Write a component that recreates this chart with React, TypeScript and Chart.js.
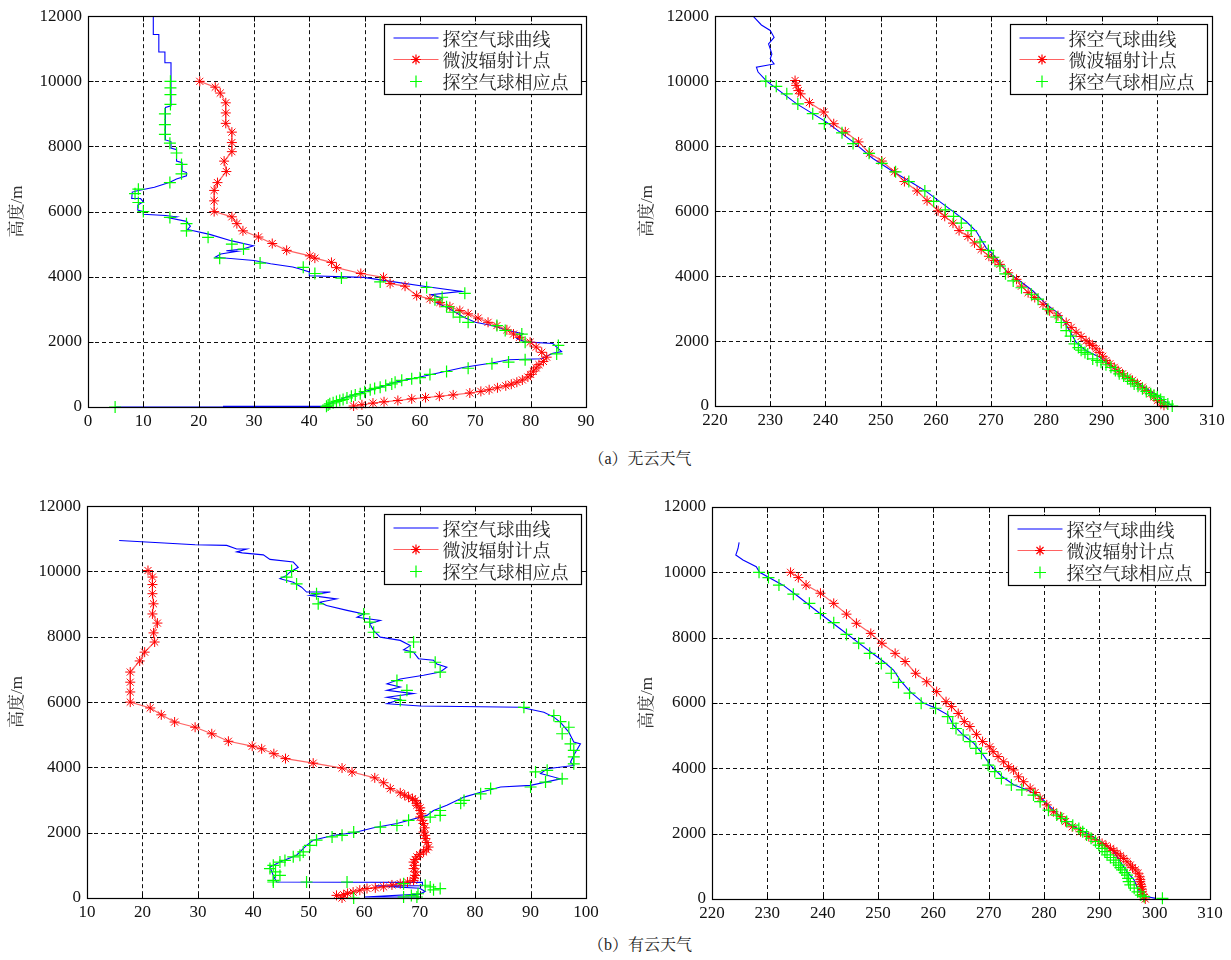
import React, { useEffect, useRef } from 'react';
import { Chart, registerables } from 'chart.js';

Chart.register(...registerables);

type P = [number, number];

// ---------- (a) 无云天气 : humidity ----------
const clearHumBalloon: P[] = [
  [11.8, 12000], [11.8, 11440], [12.8, 11440], [12.8, 10900], [13.9, 10900], [13.9, 10570], [15, 10570],
  [15, 9250], [14, 9200], [14, 8200], [15, 8150], [15, 7950], [16, 7900], [16, 7550], [17, 7500], [17, 7250],
  [17.8, 7200], [17.8, 7100], [16, 7000], [14.8, 6900], [12, 6750], [9.1, 6650], [8, 6600], [7.9, 6400],
  [9.5, 6400], [10, 6300], [9, 6200], [9, 6050], [10, 6000], [10, 5920], [14, 5880], [16, 5840], [14.8, 5800],
  [17.8, 5700], [18.5, 5550], [18, 5450], [22, 5300], [26, 5100], [29.9, 4950], [28, 4850], [25, 4800],
  [27, 4780], [24, 4700], [23, 4600], [30, 4500], [33, 4400], [37, 4300], [38, 4250], [40, 4150], [40, 4030],
  [49.8, 3980], [55, 3850], [61, 3700], [67.5, 3550], [62, 3450], [64, 3350], [63, 3200], [65, 3050],
  [68, 2750], [70, 2600], [73, 2500], [76, 2350], [78.6, 2250], [77.5, 2100], [79, 2000], [84, 1950],
  [85.6, 1700], [84, 1650], [82, 1480], [76, 1450], [73, 1350], [68, 1220], [60, 920], [56, 780],
  [52.8, 610], [48, 370], [46.7, 310], [44, 120], [43, 50], [43, 20], [24.5, 20], [24.5, 0], [5, 0],
];
const clearHumRadiometer: P[] = [
  [20.2, 10000], [23, 9820], [23.9, 9640], [24.9, 9340], [24.9, 9030], [24.9, 8710], [26, 8440], [26, 8120],
  [26, 7840], [24.6, 7550], [25, 7230], [23.4, 6890], [22.8, 6650], [22.8, 6330], [22.8, 6000], [26, 5840],
  [26.9, 5630], [28, 5410], [30.8, 5220], [33.3, 5020], [35.9, 4810], [40.1, 4640], [41, 4570], [44, 4440],
  [44.9, 4280], [49.3, 4100], [53.4, 3980], [54.6, 3790], [57.3, 3710], [59.4, 3420], [61.8, 3320],
  [63.6, 3210], [65.4, 3080], [67.2, 2960], [68.7, 2860], [70.5, 2730], [72.3, 2600], [73.9, 2500],
  [75.7, 2370], [76.9, 2240], [78, 2140], [79.9, 1990], [81, 1840], [82, 1680], [82.9, 1530], [82.3, 1400],
  [81.5, 1300], [81, 1200], [80.5, 1100], [80, 1000], [79.5, 920], [78.5, 830], [77.5, 760], [76.5, 700],
  [75.5, 650], [74, 590], [72.5, 530], [71, 480], [69, 430], [66, 370], [63.5, 330], [61, 290], [58.5, 250],
  [56, 200], [53.5, 160], [51.5, 120], [49.5, 70], [48, 30],
];
const clearHumMatched: P[] = [
  [14.9, 10000], [14.9, 9800], [14.9, 9590], [14.9, 9290], [13.9, 9000], [13.9, 8670], [13.9, 8370],
  [14.8, 8100], [16, 7800], [16.9, 7450], [16.9, 7160], [14.8, 6890], [9.1, 6690], [8.5, 6550], [9.1, 6280],
  [10, 6000], [14.8, 5820], [17.8, 5630], [17.8, 5410], [21.7, 5210], [26, 5000], [28.1, 4850], [23.8, 4570],
  [31.1, 4420], [38.9, 4290], [41, 4100], [45.8, 3960], [52.8, 3840], [61.2, 3670], [68.1, 3490], [64, 3370],
  [62.7, 3290], [64.8, 3080], [66, 2910], [67.2, 2760], [68.7, 2600], [73.9, 2500], [75.4, 2350],
  [78.4, 2240], [79, 1990], [85, 1890], [84.7, 1630], [79, 1450], [76, 1380], [73, 1330], [68.7, 1190],
  [64.8, 1090], [61.8, 1000], [60, 900], [58.5, 870], [56.7, 820], [55.5, 760], [54.9, 710], [53.8, 660],
  [52.8, 610], [51.8, 570], [51, 530], [50, 470], [49.2, 410], [48.3, 370], [47.6, 330], [46.8, 280],
  [46.1, 230], [45.5, 200], [44.9, 170], [44.3, 130], [43.7, 100], [43.4, 60], [43.1, 20], [4.9, 0],
];

// ---------- (a) 无云天气 : temperature ----------
const clearTempBalloon: P[] = [
  [226.9, 12000], [228.4, 11730], [230, 11560], [230.7, 11350], [229.7, 11150], [230.3, 10840], [230, 10690],
  [230.7, 10530], [227.5, 10430], [227.8, 10280], [229.3, 10010], [234.8, 9300], [240.2, 8740], [245, 8130],
  [248.6, 7620], [252.3, 7210], [255.9, 6850], [258.3, 6600], [260.7, 6290], [263.1, 5990], [265.5, 5680],
  [267.3, 5380], [269.1, 4870], [270.4, 4660], [272.8, 4150], [275.2, 3850], [277.6, 3540], [280, 3130],
  [282.4, 2830], [284.2, 2320], [285.4, 1960], [287.2, 1700], [289.7, 1500], [292.7, 1090], [295.7, 790],
  [298.7, 480], [301.7, 120], [302.9, 0],
];
const clearTempRadiometer: P[] = [
  [234.5, 10020], [234.7, 9870], [235.1, 9710], [235.5, 9610], [237.1, 9340], [239.7, 9050], [241.5, 8690],
  [243.6, 8440], [246, 8130], [248, 7780], [250.2, 7540], [252.5, 7210], [254.3, 6910], [256.6, 6620],
  [258.4, 6320], [260.4, 6010], [261.6, 5840], [263.1, 5630], [264.2, 5400], [265.8, 5220], [267, 5020],
  [268.2, 4820], [269.6, 4610], [270.7, 4480], [271.6, 4360], [273.1, 4100], [274.6, 3900], [275.5, 3690],
  [276.7, 3490], [277.9, 3340], [279.4, 3130], [280.6, 2930], [282.1, 2780], [283.6, 2570], [284.5, 2420],
  [285.4, 2270], [286.3, 2140], [287.2, 2010], [287.8, 1930], [288.4, 1860], [289, 1760], [289.6, 1650],
  [290.2, 1530], [290.8, 1400], [291.5, 1300], [292.3, 1190], [293, 1090], [293.8, 990], [294.7, 890],
  [295.6, 790], [296.5, 690], [297.4, 580], [298.1, 480], [298.9, 380], [299.5, 280], [300.1, 170],
  [300.7, 100], [301.3, 20],
];
const clearTempMatched: P[] = [
  [229.2, 10000], [231.1, 9840], [233, 9610], [235, 9300], [237.7, 9000], [239.8, 8690], [243, 8410],
  [245, 8080], [247.9, 7780], [250.2, 7470], [252.7, 7210], [255.1, 6910], [258, 6620], [259.6, 6300],
  [261.7, 6040], [263.2, 5840], [264.6, 5630], [266.4, 5400], [268, 5050], [269.5, 4790], [270.4, 4580],
  [271.6, 4310], [272.6, 4070], [274, 3850], [275.5, 3640], [277.3, 3440], [278.5, 3290], [280.3, 2980],
  [281.8, 2740], [282.7, 2570], [283.6, 2320], [284.4, 2150], [285.1, 1910], [285.8, 1800], [286.3, 1720],
  [287, 1650], [287.5, 1600], [288.4, 1450], [289.2, 1400], [289.9, 1350], [290.8, 1270], [291.7, 1190],
  [292.5, 1090], [293.2, 990], [294, 920], [294.7, 840], [295.3, 760], [295.9, 680], [296.6, 610],
  [297.4, 530], [298.1, 450], [298.9, 380], [299.5, 330], [300.1, 280], [300.7, 200], [301.3, 120],
  [302, 60], [302.8, 0],
];

// ---------- (b) 有云天气 : humidity ----------
const cloudHumBalloon: P[] = [
  [15.8, 10950], [23.1, 10880], [29.5, 10820], [35.2, 10800], [37, 10690], [38.8, 10690], [37, 10600],
  [38, 10570], [41.8, 10510], [43, 10370], [47.2, 10290], [48.1, 10130], [46.6, 9980], [46, 9880],
  [44.8, 9780], [47.2, 9670], [48.7, 9520], [49.6, 9370], [53.9, 9370], [50.2, 9270], [55, 9160], [52, 9060],
  [53.2, 8960], [56.9, 8810], [59.9, 8700], [58.7, 8600], [62.9, 8500], [61, 8400], [61.7, 8190],
  [62.9, 7990], [66.5, 7890], [68.3, 7730], [67.1, 7600], [68.9, 7530], [69.8, 7330], [72.5, 7280],
  [73.1, 7170], [74.9, 7070], [73.7, 6920], [70.7, 6820], [66.5, 6710], [64.1, 6560], [66.5, 6460],
  [64.1, 6360], [68.9, 6260], [64.1, 6150], [66.5, 6080], [64.1, 5950], [70.1, 5880], [88.2, 5840],
  [92.4, 5690], [94.2, 5540], [95.4, 5380], [96.9, 5080], [97.8, 4780], [99, 4720], [97.8, 4370],
  [97.2, 4160], [97.8, 4060], [93, 3960], [91.8, 3810], [95.4, 3650], [90, 3450], [84.6, 3400], [81, 3240],
  [78, 3090], [74.9, 2840], [72.5, 2680], [71.3, 2530], [65.9, 2280], [61.7, 2150], [58.1, 2000],
  [54.5, 1920], [50.8, 1770], [49.6, 1610], [47.8, 1310], [44.8, 1100], [43, 950], [43.6, 690], [44.2, 490],
  [70.5, 480], [70.5, 380], [62, 370], [70, 300], [71, 200], [70, 120], [60, 30], [70, 30],
];
const cloudHumRadiometer: P[] = [
  [21, 10030], [21.8, 9830], [21.8, 9600], [21.8, 9320], [22, 9010], [21.8, 8700], [22.7, 8420], [22, 8120],
  [22.2, 7840], [20.4, 7530], [19.5, 7260], [17.8, 6920], [17.8, 6610], [17.8, 6310], [17.8, 6000],
  [21.4, 5820], [23.4, 5610], [25.8, 5390], [29.5, 5230], [32.5, 5030], [35.5, 4800], [39.8, 4650],
  [41.5, 4570], [43.7, 4420], [45.8, 4270], [50.8, 4130], [56, 3980], [57.8, 3860], [61.9, 3680],
  [63.5, 3530], [64.7, 3350], [66.5, 3220], [67.3, 3150], [68, 3090], [68.7, 3040], [69.2, 2990],
  [69.5, 2900], [69.5, 2840], [70.1, 2760], [70.1, 2680], [70.3, 2580], [70.1, 2480], [70.5, 2380],
  [70.7, 2280], [70.9, 2150], [70.7, 2020], [71, 1920], [71, 1820], [71.3, 1700], [71.6, 1560],
  [71.2, 1480], [70.7, 1410], [70, 1330], [69.5, 1260], [69.2, 1180], [68.9, 1100], [69.1, 1000],
  [68.9, 900], [69.3, 800], [69.2, 690], [69, 610], [68.9, 540], [67.8, 490], [66.5, 440], [65, 400],
  [63.5, 340], [62, 310], [60.5, 290], [59.2, 240], [58, 180], [57, 140], [56.3, 100], [55, 80], [56, 0],
];
const cloudHumMatched: P[] = [
  [46.9, 10030], [46, 9830], [47.8, 9620], [51.4, 9320], [51.7, 9010], [59.9, 8700], [61, 8450],
  [61.7, 8140], [68.9, 7840], [68.3, 7530], [72.8, 7220], [73.7, 6920], [65.9, 6660], [67.7, 6360],
  [66.5, 6050], [88.8, 5840], [94.2, 5590], [95.4, 5400], [96.9, 5230], [95.7, 5030], [97.2, 4720],
  [97.8, 4520], [97.8, 4320], [97.8, 4110], [93, 3910], [90.9, 3860], [92.7, 3550], [95.7, 3650], [90, 3400],
  [82.8, 3350], [81, 3190], [78, 2990], [77.4, 2900], [73.7, 2680], [73.7, 2530], [71.9, 2480], [68, 2380],
  [65.9, 2220], [62.9, 2170], [58.1, 2020], [56, 1920], [54.2, 1870], [51.4, 1770], [50.2, 1610],
  [49, 1410], [48.4, 1310], [47.2, 1260], [45.7, 1150], [44.8, 1100], [43.6, 1000], [43, 900], [44, 800],
  [44.8, 690], [43.6, 540], [43.6, 490], [49.6, 490], [56.9, 490], [67.1, 440], [71, 390], [71.9, 340],
  [73.7, 290], [72.5, 250], [69.7, 130], [68.5, 80], [67.1, 30], [69.5, 30], [58.1, 0],
];

// ---------- (b) 有云天气 : temperature ----------
const cloudTempBalloon: P[] = [
  [224.9, 10920], [224.7, 10730], [224.4, 10580], [224.3, 10530], [225.6, 10380], [228, 10170],
  [228.6, 10000], [232.9, 9600], [235.3, 9300], [239.5, 8740], [243.1, 8280], [246.2, 7880], [248.6, 7570],
  [251, 7270], [252.8, 7010], [254, 6700], [255.8, 6350], [258.3, 5990], [260.5, 5840], [262.7, 5630],
  [263.6, 5330], [265.4, 5020], [267.3, 4770], [268.8, 4460], [270.3, 4100], [272.4, 3750], [274.6, 3490],
  [277, 3340], [279.3, 3130], [281.1, 2830], [283, 2520], [284.8, 2270], [286.6, 2110], [288.4, 1960],
  [290.8, 1700], [292.6, 1450], [293.8, 1140], [295, 840], [296.3, 580], [296.9, 330], [297.5, 170],
  [298.7, 70], [300.2, 20],
];
const cloudTempRadiometer: P[] = [
  [234.2, 10000], [235.6, 9840], [237, 9610], [239.6, 9360], [242, 9050], [244.3, 8720], [246.1, 8440],
  [248.7, 8130], [250.7, 7830], [253.1, 7520], [254.9, 7270], [256.8, 6910], [258.8, 6650], [260.6, 6350],
  [262.3, 6040], [263.3, 5890], [264.5, 5680], [265.6, 5430], [266.6, 5280], [267.8, 5040], [268.9, 4820],
  [270.2, 4660], [270.8, 4510], [271.7, 4360], [272.7, 4200], [273.6, 4050], [274.5, 3950], [275.4, 3740],
  [276.3, 3590], [277.5, 3390], [278.4, 3260], [279.3, 3080], [280.5, 2880], [281.7, 2670], [283, 2520],
  [283.9, 2370], [285.1, 2210], [286.6, 2060], [288.1, 1910], [289.3, 1810], [290.5, 1700], [291.2, 1630],
  [292, 1550], [292.6, 1480], [293.2, 1400], [293.8, 1320], [294.4, 1240], [295, 1140], [295.6, 1040],
  [296, 960], [296.5, 890], [297, 790], [297.3, 680], [297.4, 600], [297.4, 530], [297.5, 450],
  [297.6, 380], [297.7, 300], [297.7, 220], [297.9, 140], [298, 70], [298.3, 0],
];
const cloudTempMatched: P[] = [
  [228.5, 10000], [230.2, 9840], [232.1, 9610], [234.7, 9330], [237.6, 9050], [239.6, 8740], [242, 8460],
  [244.3, 8100], [246.5, 7830], [248.5, 7520], [250.6, 7210], [252.4, 6910], [253.7, 6630], [255.7, 6300],
  [257.8, 5990], [260.4, 5840], [262.6, 5580], [263.5, 5380], [264.1, 5220], [265.4, 5020], [266.6, 4820],
  [267.7, 4610], [268.7, 4460], [269.9, 4100], [271.1, 3900], [272.3, 3690], [274.1, 3490], [276, 3340],
  [278.1, 3180], [279.3, 2980], [280.8, 2720], [282.3, 2570], [283.2, 2470], [284.1, 2370], [285.2, 2260],
  [286.3, 2160], [287, 2060], [287.7, 1960], [288.5, 1860], [289.3, 1760], [289.9, 1650], [290.5, 1550],
  [291, 1450], [291.4, 1350], [292, 1270], [292.6, 1190], [293, 1110], [293.5, 1040], [293.8, 960],
  [294.1, 890], [294.6, 810], [295, 730], [295.2, 630], [295.3, 530], [295.6, 430], [296.3, 330],
  [296.9, 220], [297.5, 120], [298.1, 70], [301.4, 20],
];

const legendLabels = ['探空气球曲线', '微波辐射计点', '探空气球相应点'];
const heightLabel = '高度/m';
const captionA = '（a）无云天气';
const captionB = '（b）有云天气';

const toXY = (arr: P[]) => arr.map(([x, y]) => ({ x, y }));

const BLUE = '#0000ff';
const RED_LINE = 'rgba(255,70,70,0.85)';
const RED = '#ff0000';
const GREEN = '#00ff00';
const TICK_FONT = "'Liberation Serif', 'Times New Roman', serif";
const CJK_FONT = "'Liberation Serif', 'Noto Serif CJK SC', serif";
const LEGEND_FONT = "18px 'Noto Serif CJK SC', serif";

Chart.defaults.font.family = TICK_FONT;

function drawStar(ctx: CanvasRenderingContext2D, x: number, y: number, r: number) {
  const d = r * Math.SQRT1_2;
  ctx.beginPath();
  ctx.moveTo(x - r, y); ctx.lineTo(x + r, y);
  ctx.moveTo(x, y - r); ctx.lineTo(x, y + r);
  ctx.moveTo(x - d, y - d); ctx.lineTo(x + d, y + d);
  ctx.moveTo(x - d, y + d); ctx.lineTo(x + d, y - d);
  ctx.stroke();
}
function drawCross(ctx: CanvasRenderingContext2D, x: number, y: number, r: number) {
  ctx.beginPath();
  ctx.moveTo(x - r, y); ctx.lineTo(x + r, y);
  ctx.moveTo(x, y - r); ctx.lineTo(x, y + r);
  ctx.stroke();
}

const matlabAxes = {
  id: 'matlabAxes',
  beforeDatasetsDraw(chart: any) {
    const { ctx, chartArea: a, scales } = chart;
    const xs = scales.x;
    const ys = scales.y;
    ctx.save();
    ctx.strokeStyle = '#111';
    ctx.lineWidth = 1;
    ctx.setLineDash([4, 3]);
    xs.ticks.forEach((t: any) => {
      const px = Math.round(xs.getPixelForValue(t.value)) + 0.5;
      if (px <= a.left + 2 || px >= a.right - 2) return;
      ctx.beginPath();
      ctx.moveTo(px, a.top);
      ctx.lineTo(px, a.bottom);
      ctx.stroke();
    });
    ys.ticks.forEach((t: any) => {
      const py = Math.round(ys.getPixelForValue(t.value)) + 0.5;
      if (py <= a.top + 2 || py >= a.bottom - 2) return;
      ctx.beginPath();
      ctx.moveTo(a.left, py);
      ctx.lineTo(a.right, py);
      ctx.stroke();
    });
    ctx.restore();
  },
  afterDatasetsDraw(chart: any) {
    const { ctx, chartArea: a, scales } = chart;
    const xs = scales.x;
    const ys = scales.y;
    const L = Math.round(a.left) + 0.5;
    const R = Math.round(a.right) + 0.5;
    const T = Math.round(a.top) + 0.5;
    const B = Math.round(a.bottom) + 0.5;
    ctx.save();
    ctx.strokeStyle = '#000';
    ctx.lineWidth = 1.2;
    ctx.setLineDash([]);
    ctx.strokeRect(L, T, R - L, B - T);
    ctx.lineWidth = 1;
    const tl = 5;
    xs.ticks.forEach((t: any) => {
      const px = Math.round(xs.getPixelForValue(t.value)) + 0.5;
      ctx.beginPath();
      ctx.moveTo(px, B); ctx.lineTo(px, B - tl);
      ctx.moveTo(px, T); ctx.lineTo(px, T + tl);
      ctx.stroke();
    });
    ys.ticks.forEach((t: any) => {
      const py = Math.round(ys.getPixelForValue(t.value)) + 0.5;
      ctx.beginPath();
      ctx.moveTo(L, py); ctx.lineTo(L + tl, py);
      ctx.moveTo(R, py); ctx.lineTo(R - tl, py);
      ctx.stroke();
    });
    ctx.restore();
  },
  afterDraw(chart: any) {
    const { ctx, chartArea: a } = chart;
    const w = 197;
    const h = 70;
    const x0 = Math.round(a.right - 5 - w) + 0.5;
    const y0 = Math.round(a.top + 8) + 0.5;
    ctx.save();
    ctx.fillStyle = '#fff';
    ctx.fillRect(x0, y0, w, h);
    ctx.strokeStyle = '#000';
    ctx.lineWidth = 1.2;
    ctx.strokeRect(x0, y0, w, h);
    const rows = [y0 + 13.5, y0 + 35, y0 + 57];
    ctx.lineWidth = 1.2;
    ctx.strokeStyle = BLUE;
    ctx.beginPath(); ctx.moveTo(x0 + 9, rows[0]); ctx.lineTo(x0 + 54, rows[0]); ctx.stroke();
    ctx.strokeStyle = RED_LINE;
    ctx.beginPath(); ctx.moveTo(x0 + 9, rows[1]); ctx.lineTo(x0 + 54, rows[1]); ctx.stroke();
    ctx.strokeStyle = RED;
    drawStar(ctx, x0 + 31.5, rows[1], 5);
    ctx.strokeStyle = GREEN;
    drawCross(ctx, x0 + 31.5, rows[2], 6);
    ctx.fillStyle = '#222';
    ctx.font = LEGEND_FONT;
    ctx.textBaseline = 'middle';
    ctx.textAlign = 'left';
    legendLabels.forEach((s, i) => ctx.fillText(s, x0 + 58, rows[i] + 1));
    ctx.restore();
  },
};

interface PanelProps {
  left: number; top: number; width: number; height: number;
  xMin: number; xMax: number;
  yAxisWidth: number; xAxisHeight: number; padTop: number; padRight: number; titlePad: number;
  balloon: P[]; radiometer: P[]; matched: P[];
}

function Panel(p: PanelProps) {
  const ref = useRef<HTMLCanvasElement | null>(null);
  useEffect(() => {
    if (!ref.current) return;
    const chart = new Chart(ref.current, {
      type: 'scatter',
      data: {
        datasets: [
          {
            label: legendLabels[2],
            data: toXY(p.matched),
            showLine: false,
            pointStyle: 'cross',
            pointRadius: 6,
            pointBorderColor: GREEN,
            pointBackgroundColor: GREEN,
            pointBorderWidth: 1.2,
            clip: false,
          },
          {
            label: legendLabels[1],
            data: toXY(p.radiometer),
            showLine: true,
            borderColor: RED_LINE,
            borderWidth: 1.2,
            pointStyle: 'star',
            pointRadius: 5,
            pointBorderColor: RED,
            pointBackgroundColor: RED,
            pointBorderWidth: 1,
            clip: false,
          },
          {
            label: legendLabels[0],
            data: toXY(p.balloon),
            showLine: true,
            borderColor: BLUE,
            borderWidth: 1.1,
            pointRadius: 0,
          },
        ],
      } as any,
      options: {
        animation: false,
        responsive: false,
        devicePixelRatio: 1,
        layout: { padding: { left: 0, top: p.padTop, right: p.padRight, bottom: 0 } },
        plugins: { legend: { display: false }, tooltip: { enabled: false } },
        events: [],
        scales: {
          x: {
            type: 'linear',
            min: p.xMin,
            max: p.xMax,
            grid: { display: false, drawTicks: false },
            border: { display: false },
            ticks: {
              stepSize: 10,
              autoSkip: false,
              maxRotation: 0,
              padding: 4,
              color: '#111',
              font: { family: TICK_FONT, size: 17 },
              callback: (v: any) => String(v),
            },
            afterFit: (s: any) => { s.height = p.xAxisHeight; },
          },
          y: {
            type: 'linear',
            min: 0,
            max: 12000,
            grid: { display: false, drawTicks: false },
            border: { display: false },
            ticks: {
              stepSize: 2000,
              autoSkip: false,
              padding: 6,
              color: '#111',
              font: { family: TICK_FONT, size: 17 },
              callback: (v: any) => String(v),
            },
            title: {
              display: true,
              text: heightLabel,
              color: '#333',
              font: { family: CJK_FONT, size: 17 },
              padding: { top: p.titlePad, bottom: 0 },
            },
            afterFit: (s: any) => { s.width = p.yAxisWidth; },
          },
        },
      } as any,
      plugins: [matlabAxes],
    });
    let alive = true;
    const fonts: any = (document as any).fonts;
    if (fonts && fonts.load) {
      const sample = '0123456789高度/m探空气球曲线微波辐射计点相应';
      Promise.all([
        fonts.load(`17px ${TICK_FONT}`, sample),
        fonts.load(`17px ${CJK_FONT}`, sample),
        fonts.load(LEGEND_FONT, sample),
      ]).then(() => { if (alive) chart.update(); }).catch(() => {});
    }
    return () => { alive = false; chart.destroy(); };
  }, []);
  return (
    <canvas
      ref={ref}
      width={p.width}
      height={p.height}
      style={{ position: 'absolute', left: p.left, top: p.top, width: p.width, height: p.height }}
    />
  );
}

const captionStyle: React.CSSProperties = {
  position: 'absolute',
  left: 540,
  width: 200,
  textAlign: 'center',
  fontFamily: CJK_FONT,
  fontSize: 16,
  color: '#222',
  lineHeight: '20px',
};

export default function App() {
  return (
    <div style={{ position: 'absolute', left: 0, top: 0, width: 1231, height: 960, background: '#fff', overflow: 'hidden' }}>
      <Panel left={0} top={0} width={610} height={440} xMin={0} xMax={90}
        yAxisWidth={88} xAxisHeight={33} padTop={14} padRight={24} titlePad={7}
        balloon={clearHumBalloon} radiometer={clearHumRadiometer} matched={clearHumMatched} />
      <Panel left={625} top={0} width={606} height={440} xMin={220} xMax={310}
        yAxisWidth={90} xAxisHeight={34} padTop={14} padRight={19} titlePad={12}
        balloon={clearTempBalloon} radiometer={clearTempRadiometer} matched={clearTempMatched} />
      <div style={{ ...captionStyle, top: 449 }}>{captionA}</div>
      <Panel left={0} top={490} width={610} height={440} xMin={10} xMax={100}
        yAxisWidth={87} xAxisHeight={32} padTop={16} padRight={24} titlePad={7}
        balloon={cloudHumBalloon} radiometer={cloudHumRadiometer} matched={cloudHumMatched} />
      <Panel left={625} top={490} width={606} height={440} xMin={220} xMax={310}
        yAxisWidth={87} xAxisHeight={31} padTop={17} padRight={21} titlePad={12}
        balloon={cloudTempBalloon} radiometer={cloudTempRadiometer} matched={cloudTempMatched} />
      <div style={{ ...captionStyle, top: 935 }}>{captionB}</div>
    </div>
  );
}
